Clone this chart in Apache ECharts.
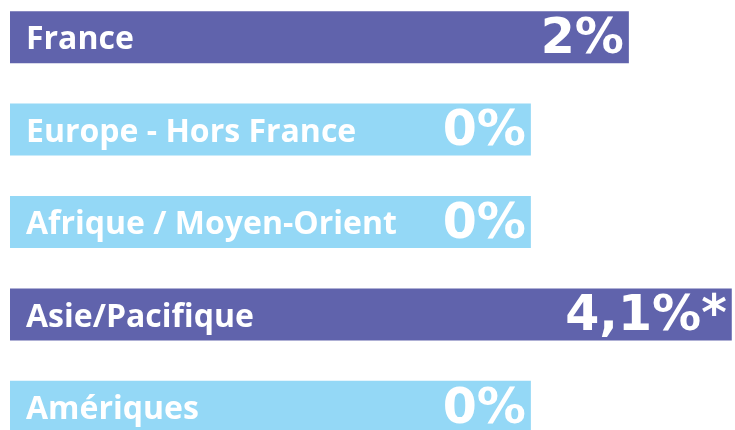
<!DOCTYPE html>
<html><head><meta charset="utf-8">
<script src="https://cdn.jsdelivr.net/npm/echarts@6/dist/echarts.min.js"></script>
<style>html,body{margin:0;padding:0;background:#fff}#c{width:735px;height:430px}</style>
</head><body><div id="c"></div>
<script>
const categories = ['France', 'Europe - Hors France', 'Afrique / Moyen-Orient', 'Asie/Pacifique', 'Amériques'];
const values = [2, 0, 0, 4.1, 0];
const valueLabels = ['2%', '0%', '0%', '4,1%*', '0%'];
const barColors = ['#6063ac', '#94d8f6', '#94d8f6', '#6063ac', '#94d8f6'];
const baseLength = 10.63;

const total = values.map(v => baseLength + v);
const chart = echarts.init(document.getElementById('c'));
chart.setOption({
  animation: false,
  grid: { left: 10, width: 725, top: -9, height: 462, outerBoundsMode: 'none', containLabel: false },
  xAxis: { type: 'value', min: 0, max: 14.796, show: false },
  yAxis: { type: 'category', data: categories, inverse: true, show: false },
  series: [
    {
      type: 'bar', barWidth: 52,
      data: total.map((v, i) => ({ value: v, itemStyle: { color: barColors[i] } })),
      label: {
        show: true, position: 'insideLeft', distance: 16, offset: [0, 3],
        formatter: p => categories[p.dataIndex],
        color: '#fff', fontFamily: 'Open Sans', fontWeight: 'bold', fontSize: 32
      }
    },
    {
      type: 'bar', barWidth: 52, barGap: '-100%',
      data: total,
      itemStyle: { color: 'transparent' },
      label: {
        show: true, position: 'insideRight', distance: 5, offset: [0, 3],
        formatter: p => valueLabels[p.dataIndex],
        color: '#fff', fontFamily: 'DejaVu Sans', fontWeight: 'bold', fontSize: 49
      }
    }
  ]
});
</script></body></html>
